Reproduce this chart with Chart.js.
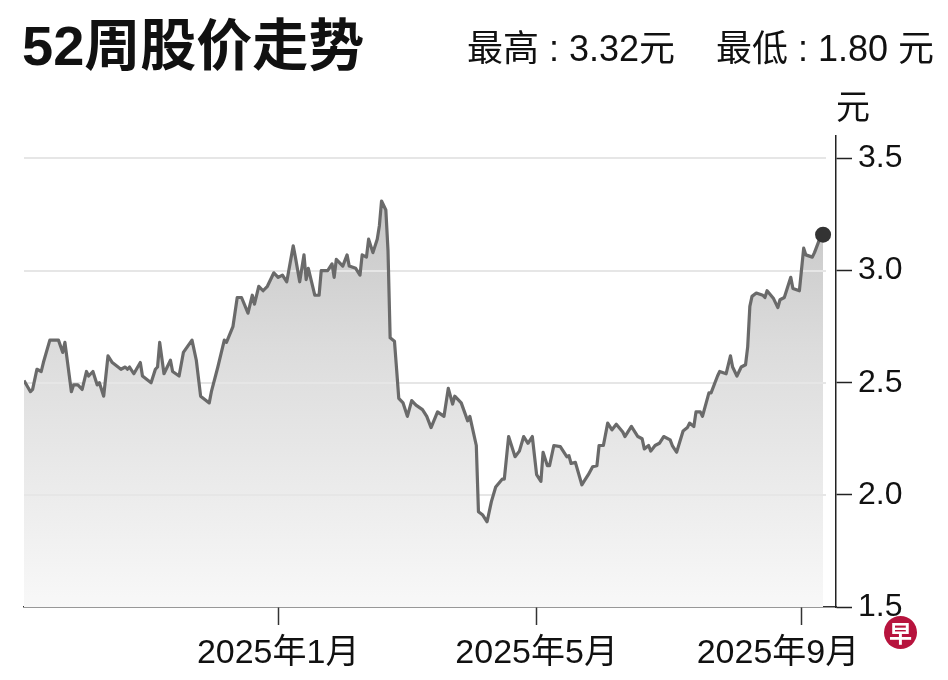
<!DOCTYPE html>
<html><head><meta charset="utf-8">
<script src="https://cdn.jsdelivr.net/npm/chart.js@4.4.1/dist/chart.umd.min.js"></script>
<style>
html,body{margin:0;padding:0;background:#fff;}
#wrap{position:relative;width:948px;height:680px;overflow:hidden;background:#fff;}
canvas{position:absolute;left:0;top:0;}
.t{position:absolute;white-space:nowrap;line-height:1;color:#111;font-family:"Liberation Sans","Noto Sans CJK SC",sans-serif;}
#title{left:22px;top:18px;font-size:56px;font-weight:bold;}
#hi{left:467px;top:31px;font-size:36px;}
#lo{left:716px;top:31px;font-size:36px;}
#unit{left:836px;top:90px;font-size:34px;}
#logo{position:absolute;left:884px;top:616px;width:33px;height:33px;border-radius:50%;background:#b7133d;color:#fff;font-size:23px;font-weight:bold;text-align:center;line-height:33px;font-family:"Noto Sans CJK SC",sans-serif;}
</style></head>
<body>
<div id="wrap">
<canvas id="c" width="948" height="680"></canvas>
<div class="t" id="title">52周股价走势</div>
<div class="t" id="hi">最高 : 3.32元</div>
<div class="t" id="lo">最低 : 1.80 元</div>
<div class="t" id="unit">元</div>
<div id="logo">早</div>
</div>
<script>
// Day offsets relative to 2025-01-01
const dayOffsets = [
 -118,-115,-114,-112,-110,-109,-106,-102,-100,-99,
 -96,-95,-93,-91,-89,-88,-86,-84,-83,-81,
 -79,-77,-73,-71,-70,-69,-67,-64,-63,-59,
 -57,-56,-55,-53,-50,-49,-46,-44,-40,-38,
 -36,-32,-31,-28,-25,-24,-21,-19,-17,-14,
 -12,-11,-9,-7,-5,-2,0,2,4,7,
 8,10,12,13,14,17,19,20,23,25,
 26,27,30,32,33,36,38,39,41,42,
 44,46,47,48,50,51,52,54,55,56,
 58,60,62,64,67,69,71,74,77,79,
 81,82,85,88,89,92,93,95,97,99,
 101,104,105,107,110,112,114,116,118,120,
 122,123,125,126,128,131,134,135,136,138,
 141,142,144,146,148,149,151,153,155,157,
 160,161,164,167,169,170,172,173,175,177,
 179,182,183,185,188,190,191,193,194,196,
 197,200,201,204,205,208,210,211,213,215,
 217,218,219,220,222,225,226,227,230,232,
 233,235,238,239,242,244,245,248,249,251,
 253
];
const prices = [
 2.51,2.46,2.47,2.56,2.55,2.59,2.69,2.69,2.635,2.68,
 2.46,2.49,2.49,2.47,2.55,2.53,2.55,2.49,2.50,2.44,
 2.62,2.59,2.56,2.57,2.56,2.57,2.54,2.59,2.53,2.50,
 2.56,2.57,2.68,2.54,2.60,2.55,2.53,2.635,2.69,2.60,
 2.44,2.41,2.46,2.57,2.69,2.68,2.75,2.88,2.88,2.81,
 2.89,2.85,2.93,2.91,2.93,2.99,2.97,2.98,2.95,3.11,
 3.06,2.95,3.07,2.96,3.01,2.89,2.89,3.00,3.00,3.03,
 2.97,3.05,3.02,3.07,3.02,3.01,2.98,3.07,3.06,3.14,
 3.08,3.14,3.20,3.31,3.27,3.09,2.70,2.685,2.56,2.43,
 2.41,2.35,2.42,2.40,2.38,2.35,2.30,2.37,2.35,2.475,
 2.405,2.44,2.41,2.33,2.35,2.22,1.925,1.91,1.88,1.97,
 2.035,2.07,2.07,2.26,2.17,2.195,2.26,2.23,2.26,2.09,
 2.06,2.19,2.13,2.13,2.22,2.215,2.17,2.175,2.14,2.145,
 2.045,2.06,2.09,2.125,2.13,2.22,2.22,2.32,2.29,2.315,
 2.28,2.26,2.305,2.26,2.25,2.205,2.22,2.195,2.22,2.23,
 2.26,2.245,2.22,2.19,2.285,2.30,2.32,2.305,2.37,2.37,
 2.35,2.455,2.455,2.53,2.55,2.54,2.62,2.57,2.53,2.57,
 2.58,2.66,2.84,2.885,2.90,2.89,2.88,2.91,2.875,2.835,
 2.87,2.88,2.97,2.92,2.91,3.10,3.07,3.06,3.08,3.13,
 3.16
];
const xTickDays = [0, 120, 243];
const xTickLabels = ['2025年1月', '2025年5月', '2025年9月     '];
const yTicks = [1.5, 2.0, 2.5, 3.0, 3.5];

const FONT = '"Liberation Sans","Noto Sans CJK SC",sans-serif';

const gridOverFill = {
  id: 'gridOverFill',
  beforeDatasetDraw(chart) {
    const {ctx, chartArea, scales} = chart;
    ctx.save();
    ctx.strokeStyle = '#e6e6e6';
    ctx.lineWidth = 2;
    yTicks.forEach(v => {
      if (v === 1.5) return;
      const y = Math.round(scales.y.getPixelForValue(v));
      ctx.beginPath();
      ctx.moveTo(chartArea.left, y);
      ctx.lineTo(chartArea.right - 10, y);
      ctx.stroke();
    });
    ctx.restore();
  }
};

new Chart(document.getElementById('c'), {
  type: 'line',
  data: {
    datasets: [{
      data: dayOffsets.map((d, i) => ({x: d, y: prices[i]})),
      borderColor: '#6a6a6a',
      borderWidth: 3.2,
      borderJoinStyle: 'round',
      tension: 0,
      fill: 'start',
      backgroundColor: (c) => {
        const a = c.chart.chartArea;
        if (!a) return '#ddd';
        const g = c.chart.ctx.createLinearGradient(0, a.top, 0, a.bottom);
        g.addColorStop(0, '#bdbdbd');
        g.addColorStop(0.45, '#dcdcdc');
        g.addColorStop(1, '#f8f8f8');
        return g;
      },
      pointRadius: (c) => c.dataIndex === prices.length - 1 ? 8 : 0,
      pointBackgroundColor: '#333',
      pointBorderWidth: 0,
      pointHoverRadius: 0
    }]
  },
  options: {
    responsive: false,
    animation: false,
    events: [],
    layout: {padding: {left: 24, top: 136, right: 0, bottom: 0}},
    plugins: {legend: {display: false}, tooltip: {enabled: false}},
    scales: {
      x: {
        type: 'linear',
        min: -118,
        max: 259,
        afterBuildTicks: (s) => { s.ticks = xTickDays.map(v => ({value: v})); },
        afterFit: (s) => { s.height = 73; },
        grid: {drawOnChartArea: false, drawTicks: true, tickLength: 18, tickColor: '#333', tickWidth: 1.5},
        border: {color: '#333', width: 1.5},
        ticks: {
          autoSkip: false, maxRotation: 0, minRotation: 0, padding: 8, color: '#111',
          font: {size: 34, family: FONT},
          callback: (v) => { const i = xTickDays.indexOf(v); return i >= 0 ? xTickLabels[i] : ''; }
        }
      },
      y: {
        position: 'right',
        min: 1.5,
        max: 3.6,
        afterBuildTicks: (s) => { s.ticks = yTicks.map(v => ({value: v})); },
        afterFit: (s) => { s.width = 112; },
        grid: {drawOnChartArea: false, drawTicks: true, tickLength: 16, tickColor: '#222', tickWidth: 1.5},
        border: {color: '#222', width: 1.5},
        ticks: {
          padding: 6, color: '#111',
          font: {size: 32, family: FONT},
          callback: (v) => Number(v).toFixed(1)
        }
      }
    }
  },
  plugins: [gridOverFill]
});
</script>
</body></html>
